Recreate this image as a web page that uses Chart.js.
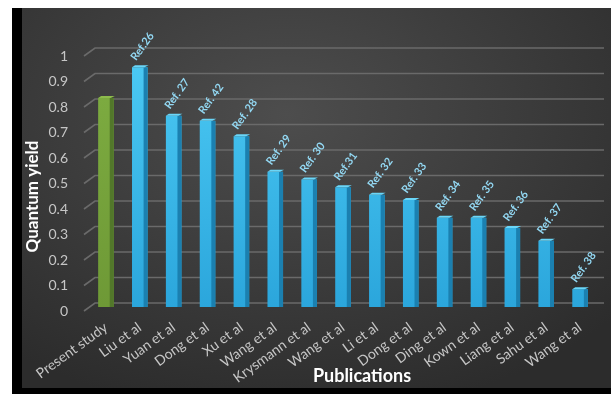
<!DOCTYPE html>
<html>
<head>
<meta charset="utf-8">
<script src="https://cdn.jsdelivr.net/npm/chart.js@4/dist/chart.umd.min.js"></script>
<style>
  html, body { margin: 0; padding: 0; background: #fff; }
  #frame {
    position: absolute; left: 12px; top: 8px; width: 599px; height: 386px;
    background: #000;
  }
  #wrap {
    position: absolute; left: 10px; top: 0; width: 589px; height: 380px;
    background: radial-gradient(ellipse 75% 80% at 45% 28%, #4d4d4d 0%, #3b3b3b 55%, #2c2c2c 100%);
  }
</style>
</head>
<body>
<div id="frame"><div id="wrap"><canvas id="qy" width="589" height="380"></canvas></div></div>
<script>
var publications = ["Present study", "Liu et al", "Yuan et al", "Dong et al", "Xu et al",
    "Wang et al", "Krysmann et al", "Wang et al", "Li et al", "Dong et al",
    "Ding et al", "Kown et al", "Liang et al", "Sahu et al", "Wang et al"];
var quantumYield = [0.82, 0.94, 0.75, 0.73, 0.67, 0.53, 0.50, 0.47, 0.44, 0.42, 0.35, 0.35, 0.31, 0.26, 0.07];
var refLabels = ["", "Ref.26", "Ref. 27", "Ref. 42", "Ref. 28", "Ref. 29", "Ref. 30", "Ref.31",
    "Ref. 32", "Ref. 33", "Ref. 34", "Ref. 35", "Ref. 36", "Ref. 37", "Ref. 38"];
var yTicks = [0, 0.1, 0.2, 0.3, 0.4, 0.5, 0.6, 0.7, 0.8, 0.9, 1];
var xTitle = "Publications";
var yTitle = "Quantum yield";

var FONT = "Lato, 'Open Sans', sans-serif";

function sideColor(i) { return i === 0 ? "#52772a" : "#1b80b0"; }
function capColor(i) { return i === 0 ? "#8dbb4c" : "#6ad6f8"; }

// front face: vertical gradient, green for the present study, blue for the rest
function frontColor(c) {
    var area = c.chart.chartArea;
    if (!area) return c.dataIndex === 0 ? "#78a43c" : "#3cc0ef";
    var g = c.chart.ctx.createLinearGradient(0, area.top, 0, area.bottom);
    if (c.dataIndex === 0) {
        g.addColorStop(0, "#7fae42");
        g.addColorStop(1, "#6e9936");
    } else {
        g.addColorStop(0, "#4ccaf4");
        g.addColorStop(1, "#2ba6dc");
    }
    return g;
}

// gridlines sit slightly behind the bars, with a slanted floor stub on the left
var gridPlugin = {
    id: "grid3d",
    beforeDatasetsDraw: function(chart) {
        var ctx = chart.ctx, y = chart.scales.y, a = chart.chartArea;
        ctx.save();
        ctx.strokeStyle = "#6a6a6a";
        ctx.lineWidth = 1.6;
        yTicks.forEach(function(v) {
            var py = y.getPixelForValue(v);
            ctx.beginPath();
            ctx.moveTo(a.left - 5, py + 4);
            ctx.lineTo(a.left + 6, py - 4);
            ctx.lineTo(a.right + 7, py - 4);
            ctx.stroke();
        });
        ctx.restore();
    }
};

// side face, top cap and reference labels on each bar
var barPlugin = {
    id: "bar3d",
    afterDatasetsDraw: function(chart) {
        var ctx = chart.ctx;
        var bars = chart.getDatasetMeta(0).data;
        ctx.save();
        bars.forEach(function(bar, i) {
            var w = bar.width, left = bar.x - w / 2, right = bar.x + w / 2;
            ctx.fillStyle = sideColor(i);
            ctx.fillRect(right - 4, bar.y, 4, bar.base - bar.y);
            ctx.fillStyle = capColor(i);
            ctx.beginPath();
            ctx.moveTo(left, bar.y);
            ctx.lineTo(left + 3, bar.y - 2);
            ctx.lineTo(right + 1, bar.y - 2);
            ctx.lineTo(right - 3, bar.y);
            ctx.closePath();
            ctx.fill();

            if (refLabels[i]) {
                ctx.save();
                ctx.translate(left + 4, bar.y - 6);
                ctx.rotate(-54 * Math.PI / 180);
                ctx.fillStyle = "#93d8f3";
                ctx.font = "bold 11px " + FONT;
                ctx.textAlign = "left";
                ctx.textBaseline = "alphabetic";
                ctx.fillText(refLabels[i], 0, 0);
                ctx.restore();
            }
        });
        ctx.restore();
    }
};

// axis titles, placed a little off the plot centre
var titlePlugin = {
    id: "axisTitles",
    afterDraw: function(chart) {
        var ctx = chart.ctx, a = chart.chartArea;
        ctx.save();
        ctx.fillStyle = "#ffffff";
        ctx.textAlign = "center";
        ctx.textBaseline = "middle";
        ctx.font = "bold 18px " + FONT;
        ctx.fillText(xTitle, (a.left + a.right) / 2 + 19, 368);
        ctx.translate(11, (a.top + a.bottom) / 2 + 17);
        ctx.rotate(-Math.PI / 2);
        ctx.font = "bold 17px " + FONT;
        ctx.fillText(yTitle, 0, 0);
        ctx.restore();
    }
};

new Chart(document.getElementById("qy"), {
    type: "bar",
    data: {
        labels: publications,
        datasets: [{
            data: quantumYield,
            backgroundColor: frontColor,
            barPercentage: 0.46,
            categoryPercentage: 1
        }]
    },
    options: {
        responsive: false,
        animation: false,
        layout: { padding: { left: 0, right: 14, top: 44, bottom: 2 } },
        plugins: { legend: { display: false }, tooltip: { enabled: false } },
        scales: {
            x: {
                grid: { display: false },
                border: { display: false },
                ticks: {
                    color: "#c6c6c6",
                    font: { family: FONT, size: 14 },
                    minRotation: 36, maxRotation: 36,
                    autoSkip: false,
                    padding: 4
                },
                afterFit: function(scale) { scale.height = 79; }
            },
            y: {
                min: 0, max: 1,
                grid: { display: false, drawTicks: false },
                border: { display: false },
                afterBuildTicks: function(scale) {
                    scale.ticks = yTicks.map(function(v) { return { value: v }; });
                },
                ticks: {
                    color: "#c6c6c6",
                    font: { family: FONT, size: 14 },
                    padding: 21,
                    labelOffset: 4,
                    callback: function(v) { return String(v); }
                },
                afterFit: function(scale) { scale.width = 67; }
            }
        }
    },
    plugins: [gridPlugin, barPlugin, titlePlugin]
});
</script>
</body>
</html>
